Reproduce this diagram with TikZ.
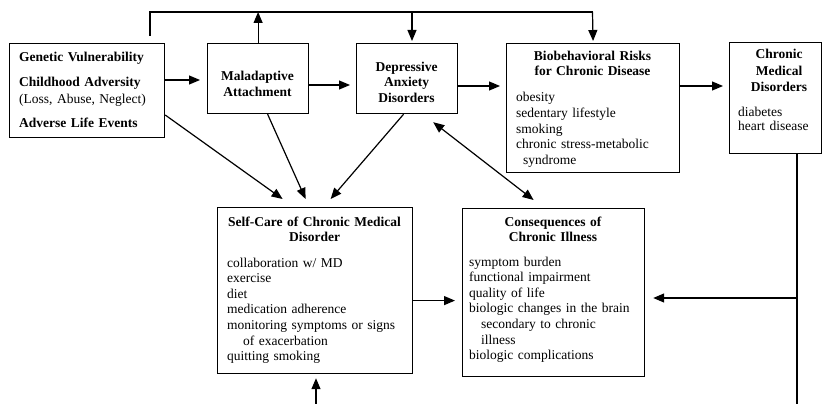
\documentclass[tikz,border=0pt]{standalone}
\usepackage{fontspec}
\setmainfont{Liberation Serif}
\usetikzlibrary{arrows.meta,calc}
\begin{document}
\begin{tikzpicture}[x=1pt,y=-1pt,
  box/.style={draw, line width=1.2pt, inner sep=0pt, anchor=north west},
  txt/.style={inner sep=0pt, font=\fontsize{13.5}{15.6}\selectfont},
  ttl/.style={txt, anchor=base, align=center, font=\fontsize{13.5}{15.6}\selectfont\bfseries},
  lst/.style={txt, anchor=base west, align=left},
  arr/.style={line width=1.2pt, -{Triangle[length=11pt,width=9pt]}},
  darr/.style={line width=1.2pt, {Triangle[length=11pt,width=9pt]}-{Triangle[length=11pt,width=9pt]}},
  ln/.style={line width=1.2pt},
]
\useasboundingbox (0,0) rectangle (822,404);
\fill[white] (0,0) rectangle (822,404);

% boxes
\node[box, minimum width=155pt, minimum height=94pt] (b1) at (9,43) {};
\node[box, minimum width=101pt, minimum height=70pt] (mal) at (207,43) {};
\node[box, minimum width=101pt, minimum height=70pt] (dep) at (356,43) {};
\node[box, minimum width=173pt, minimum height=129pt] (bio) at (506,43) {};
\node[box, minimum width=92pt, minimum height=111pt] (cm) at (729,42) {};
\node[box, minimum width=195pt, minimum height=166pt] (sc) at (217,207) {};
\node[box, minimum width=182pt, minimum height=168pt] (con) at (462,208) {};

% texts
\node[lst, text width=145pt] (b1t) at (19,62)
  {\textbf{Genetic Vulnerability}\\[9.4pt]
   \textbf{Childhood Adversity}\\[1.4pt]
   (Loss, Abuse, Neglect)\\[8.4pt]
   \textbf{Adverse Life Events}};
\node[ttl, text width=100pt] (malt) at (257.5,81) {Maladaptive\\[0.4pt]Attachment};
\node[ttl, text width=100pt] (dept) at (406.5,71) {Depressive\\[0.4pt]Anxiety\\[0.4pt]Disorders};
\node[ttl, text width=170pt] (biot) at (592.5,61) {Biobehavioral Risks\\[-0.6pt]for Chronic Disease};
\node[lst, text width=160pt] (biol) at (516,102)
  {obesity\\ sedentary lifestyle\\ smoking\\ chronic stress-metabolic\\ \hspace*{7pt}syndrome};
\node[ttl, text width=90pt] (cmt) at (779,59) {Chronic\\[0.9pt]Medical\\[0.9pt]Disorders};
\node[lst, text width=82pt] (cml) at (738,116) {diabetes\\[-1.6pt]heart disease};
\node[ttl, text width=192pt] (sct) at (314.5,226) {Self-Care of Chronic Medical\\[-0.6pt]Disorder};
\node[lst, text width=182pt] (scl) at (227,267)
  {collaboration w/ MD\\ exercise\\ diet\\ medication adherence\\ monitoring symptoms or signs\\ \hspace*{16pt}of exacerbation\\ quitting smoking};
\node[ttl, text width=180pt] (cont) at (553,226) {Consequences of\\[-0.6pt]Chronic Illness};
\node[lst, text width=172pt] (conl) at (469,266)
  {symptom burden\\ functional impairment\\ quality of life\\ biologic changes in the brain\\ \hspace*{12pt}secondary to chronic\\ \hspace*{12pt}illness\\ biologic complications};

% top feedback line
\coordinate (topS) at (150,36);
\coordinate (topE) at (592.5,12);
\coordinate (dA) at (412,12);
\draw[ln] (topS) |- (topE);
\draw[arr] (mal.north) -- (mal.north |- topE);
\draw[arr, shorten >=2pt] (dA) -- (dA |- dep.north);
\draw[arr, shorten >=2pt] (topE) -- (bio.north);

% horizontal chain
\draw[arr] ($(b1.north east)+(0,37)$) -- ($(mal.north west)+(-7,37)$);
\draw[arr] ($(mal.north east)+(0,42)$) -- ($(dep.north west)+(-6,42)$);
\draw[arr] ($(dep.north east)+(0,43)$) -- ($(bio.north west)+(-6,43)$);
\draw[arr] ($(bio.north east)+(0,43)$) -- ($(cm.north west)+(-6,44)$);

% diagonals into self-care
\draw[arr] ($(b1.north east)+(0,72)$) -- ($(sc.north)+(-32.5,-8)$);
\draw[arr] ($(mal.south)+(9.5,0)$) -- ($(sc.north)+(-9.5,-8)$);
\draw[arr] ($(dep.south)+(-3.5,0)$) -- ($(sc.north)+(15.5,-8)$);
\draw[darr] ($(dep.south east)+(-25,8)$) -- ($(con.north)+(-20,-8)$);

% self-care to consequences
\draw[arr] ($(sc.east)+(0,10)$) -- ($(con.west)+(-7,8)$);

% bottom arrow into self-care
\coordinate (scB) at (316,404);
\draw[arr] (scB) -- ($(sc.south -| scB)+(0,4)$);

% right vertical line and arrow into consequences
\coordinate (cmB) at (797,404);
\coordinate (cmJ) at (797,298);
\draw[ln] (cm.south -| cmB) -- (cmB);
\draw[arr] (cmJ) -- ($(con.east |- cmJ)+(8,0)$);
\end{tikzpicture}
\end{document}
